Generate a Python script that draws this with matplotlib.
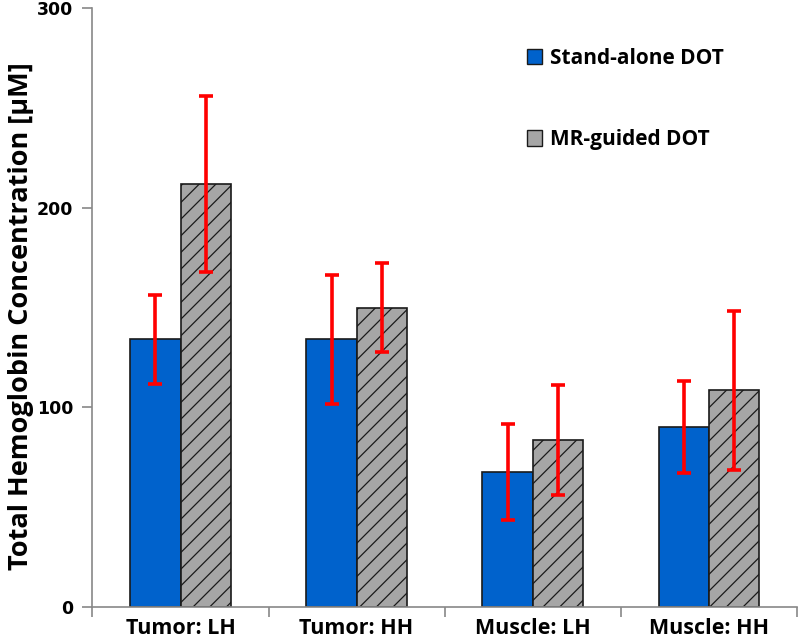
import numpy as np
import matplotlib.pyplot as plt
from matplotlib.patches import Patch

categories = ["Tumor: LH", "Tumor: HH", "Muscle: LH", "Muscle: HH"]
standalone = [134, 134, 67.5, 90]
standalone_err = [22.5, 32.5, 24, 23]
mr_guided = [212, 150, 83.5, 108.5]
mr_guided_err = [44, 22.5, 27.5, 40]
series_labels = ["Stand-alone DOT", "MR-guided DOT"]

blue = "#0062CC"
grey = "#A6A6A6"
red = "#FF0000"
font = ["Open Sans", "DejaVu Sans"]

plt.rcParams["hatch.color"] = "#333333"
plt.rcParams["hatch.linewidth"] = 0.9

fig = plt.figure(figsize=(8, 6.42), dpi=100)
ax = fig.add_axes([0.1156, 0.0545, 0.8804, 0.933])

x = np.arange(len(categories))
w = 0.285
err_kw = dict(ecolor=red, elinewidth=2.6, capsize=5, capthick=2.6)

ax.bar(x - w / 2, standalone, w, color=blue, edgecolor="#1a1a1a", linewidth=1.2,
       yerr=standalone_err, error_kw=err_kw, zorder=2)
ax.bar(x + w / 2, mr_guided, w, color=grey, edgecolor="#1a1a1a", linewidth=1.2,
       hatch="//", yerr=mr_guided_err, error_kw=err_kw, zorder=2)

ax.set_xlim(-0.5, len(categories) - 0.5)
ax.set_ylim(0, 300)
ax.set_yticks([0, 100, 200, 300])
ax.set_yticklabels(["0", "100", "200", "300"], fontsize=12.5, fontweight="bold",
                   family="DejaVu Sans")

# category boundary ticks on x
ax.set_xticks(np.arange(len(categories) + 1) - 0.5)
ax.set_xticklabels([])
ax.set_xticks(x, minor=True)
ax.set_xticklabels(categories, minor=True, fontsize=15.5, fontweight="bold", family=font)
ax.tick_params(axis="x", which="minor", length=0, pad=8)
ax.tick_params(axis="x", which="major", length=7, color="#888888", width=1.2)
ax.tick_params(axis="y", length=7, color="#888888", width=1.2, pad=7)

for side in ["top", "right"]:
    ax.spines[side].set_visible(False)
for side in ["left", "bottom"]:
    ax.spines[side].set_color("#888888")
    ax.spines[side].set_linewidth(1.2)

ax.set_ylabel("Total Hemoglobin Concentration [\u03bcM]", fontsize=19.5,
              fontweight="bold", family=font)
ax.yaxis.set_label_coords(-0.083, 0.485)

handles = [Patch(facecolor=blue, edgecolor="#1a1a1a", linewidth=1.0),
           Patch(facecolor=grey, edgecolor="#1a1a1a", linewidth=1.0)]
ax.legend(handles, series_labels, loc="upper left", bbox_to_anchor=(0.59, 0.965),
          frameon=False, labelspacing=2.9, handlelength=0.75, handleheight=0.75,
          handletextpad=0.35, prop=dict(family=font, weight="bold", size=15))

fig.savefig("out.png", dpi=100)
